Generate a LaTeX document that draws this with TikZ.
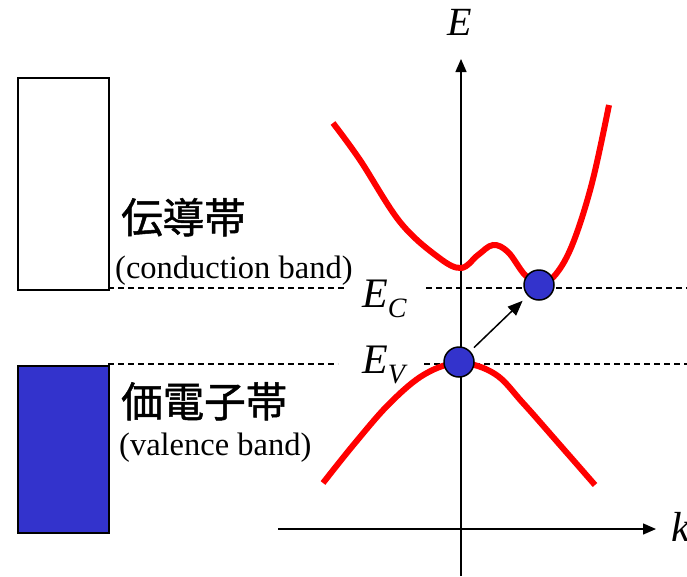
\documentclass[tikz,border=0pt]{standalone}
\usepackage{fontspec}
\setmainfont{Liberation Serif}
\newfontfamily\cjk[FakeBold=1.2]{Noto Sans CJK JP}
\usetikzlibrary{arrows.meta}
\definecolor{bandblue}{RGB}{51,51,204}
\definecolor{bandred}{RGB}{255,0,0}
\tikzset{
  bandbox/.style={draw=black,line width=1.5pt},
  axisline/.style={draw=black,line width=1.4pt,-{Triangle[length=13pt,width=11pt]}},
  levelline/.style={draw=black,line width=1.3pt,dash pattern=on 6pt off 4pt},
  bandcurve/.style={draw=bandred,line width=6pt,line cap=butt},
  carrier/.style={circle,draw=black,line width=1.5pt,fill=bandblue,minimum size=30pt,inner sep=0pt},
  jumparrow/.style={draw=black,line width=1.5pt,-{Triangle[length=15pt,width=12pt]}},
  cjklabel/.style={font=\cjk\fontsize{41.5}{41.5}\selectfont,inner sep=0pt,anchor=base west},
  enlabel/.style={font=\fontsize{32.5}{32.5}\selectfont,inner sep=0pt,anchor=base west},
  symlabel/.style={inner sep=0pt,anchor=base west}
}
\newcommand{\bigit}[1]{{\fontsize{42}{42}\selectfont\textit{#1}}}
\newcommand{\subit}[1]{\raisebox{-10pt}{\fontsize{28}{28}\selectfont\textit{#1}}}
\begin{document}
\begin{tikzpicture}[x=1pt,y=-1pt]
\useasboundingbox (0,0) rectangle (687,576);

% band boxes
\node[bandbox,fill=white,minimum width=91pt,minimum height=212pt,inner sep=0pt,anchor=north west] (cb) at (17,77) {};
\node[bandbox,fill=bandblue,minimum width=91pt,minimum height=167pt,inner sep=0pt,anchor=north west] (vb) at (17,365) {};

% labels
\node[cjklabel] (cbj) at (121,233) {伝導帯};
\node[enlabel] (cbe) at (115,278) {(conduction band)};
\node[cjklabel] (vbj) at (121,417) {価電子帯};
\node[enlabel] (vbe) at (119,455) {(valence band)};

% level lines
\coordinate (ecl1) at (108,288);
\coordinate (ecl2) at (346,288);
\coordinate (ecr1) at (426,288);
\coordinate (ecr2) at (687,288);
\coordinate (evl1) at (108,364);
\coordinate (evl2) at (338,364);
\coordinate (evr1) at (424,364);
\coordinate (evr2) at (687,364);
\draw[levelline] (ecl1) -- (ecl2);
\draw[levelline] (ecr1) -- (ecr2);
\draw[levelline] (evl1) -- (evl2);
\draw[levelline] (evr1) -- (evr2);

% axes
\coordinate (eb) at (461,576);
\coordinate (et) at (461,59);
\coordinate (kl) at (278,529);
\coordinate (kr) at (656,529);
\draw[axisline] (eb) -- (et);
\draw[axisline] (kl) -- (kr);
\node[font=\fontsize{40}{40}\selectfont\itshape,inner sep=0pt] (elab) at (460,22) {E};
\node[symlabel] (klab) at (671,541) {\bigit{k}};

% level labels
\node[symlabel] (eclab) at (362,307) {\bigit{E}\subit{C}};
\node[symlabel] (evlab) at (362,373) {\bigit{E}\subit{V}};

% band curves
\draw[bandcurve] plot[smooth,tension=0.6] coordinates {(333,123) (360,160) (400,222) (438,257) (461,268) (478,255) (493,245) (508,252) (525,275) (540,284) (556,274) (573,243) (592,183) (609,105)};
\draw[bandcurve] plot[smooth,tension=0.6] coordinates {(323,483) (355,443) (390,403) (425,374) (460,363) (495,374) (523,403) (560,445) (595,485)};

% carriers
\node[carrier] (elec) at (539,285) {};
\node[carrier] (hole) at (459,362) {};
\draw[jumparrow,shorten <=5pt,shorten >=7pt] (hole) -- (elec);
\end{tikzpicture}
\end{document}
